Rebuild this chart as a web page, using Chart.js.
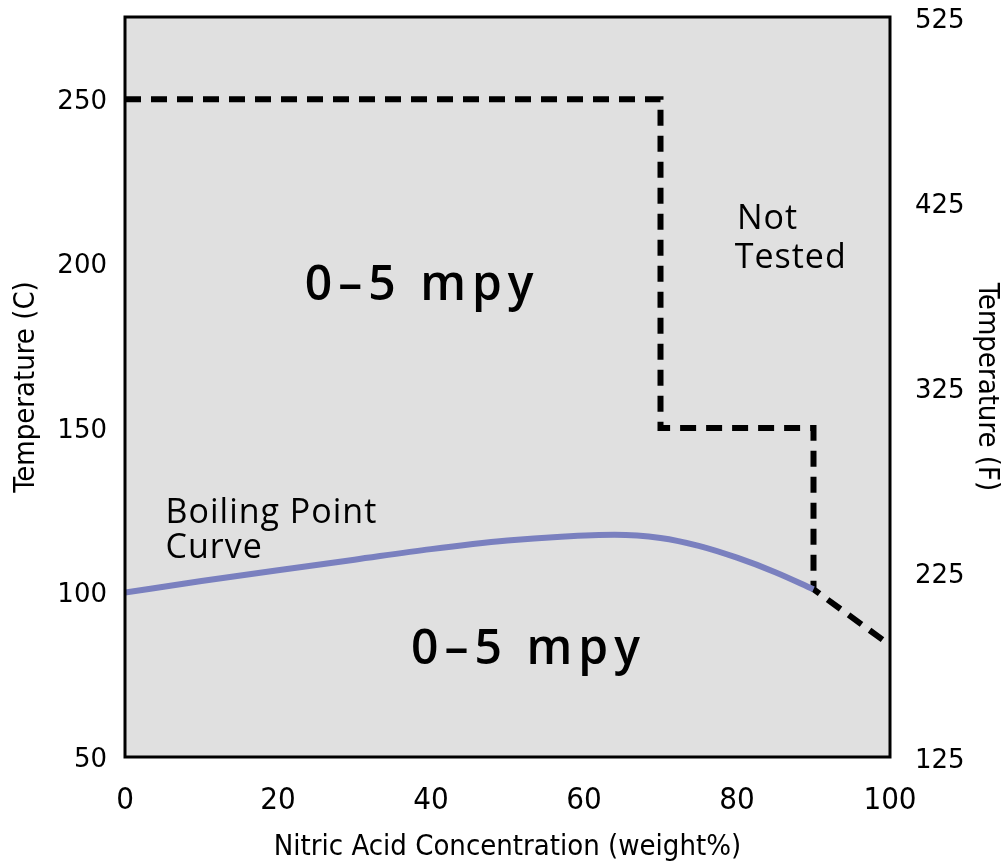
<!DOCTYPE html>
<html>
<head>
<meta charset="utf-8">
<script src="https://cdn.jsdelivr.net/npm/chart.js@4/dist/chart.umd.min.js"></script>
<style>
  body { margin: 0; background: #fff; }
  #wrap { width: 1006px; height: 865px; position: relative; }
</style>
</head>
<body>
<div id="wrap"><canvas id="chart"></canvas></div>
<script>
// Boiling point curve (C vs weight%)
const concBoil = [0, 10, 20, 30, 40, 50, 57, 64, 70, 75, 80, 85, 90];
const tempBoil = [100, 103.5, 106.8, 110, 113.2, 115.8, 117, 117.6, 116.6, 114.2, 110.6, 106.2, 101];

// Tested limit (dashed)
const concLimit = [0, 70, 70, 90, 90, 100];
const tempLimit = [250, 250, 150, 150, 101, 84];

// Axis ticks
const ticksX = [0, 20, 40, 60, 80, 100];
const ticksC = [50, 100, 150, 200, 250];
const ticksF = [125, 225, 325, 425, 525];

const condensed = "'DejaVu Sans Condensed', sans-serif";
const labelFont = "'Open Sans', 'DejaVu Sans', sans-serif";

function toPoints(xs, ys) {
    return xs.map((x, i) => ({ x: x, y: ys[i] }));
}

// Plot background, frame and text labels
const plotDecor = {
    id: 'plotDecor',
    beforeDatasetsDraw(chart) {
        const a = chart.chartArea;
        const ctx = chart.ctx;
        ctx.save();
        ctx.fillStyle = '#e0e0e0';
        ctx.fillRect(a.left, a.top, a.right - a.left, a.bottom - a.top);
        ctx.restore();
    },
    afterDatasetsDraw(chart) {
        const a = chart.chartArea;
        const ctx = chart.ctx;
        const xs = chart.scales.x;
        const ys = chart.scales.y;
        const at = (x, y) => [xs.getPixelForValue(x), ys.getPixelForValue(y)];
        ctx.save();
        ctx.strokeStyle = '#000';
        ctx.lineWidth = 3;
        ctx.strokeRect(a.left, a.top, a.right - a.left, a.bottom - a.top);

        ctx.fillStyle = '#000';
        ctx.textBaseline = 'alphabetic';
        ctx.textAlign = 'left';

        // region labels
        ctx.font = "600 48px " + labelFont;
        ctx.letterSpacing = '6px';
        ctx.fillText('0–5 mpy', ...at(23.5, 189.1));
        ctx.fillText('0–5 mpy', ...at(37.4, 78.3));

        ctx.font = "34px " + labelFont;
        ctx.letterSpacing = '1px';
        ctx.fillText('Not', ...at(80.0, 210.4));
        ctx.fillText('Tested', ...at(79.7, 198.6));
        ctx.fillText('Boiling Point', ...at(5.3, 121.2));
        ctx.fillText('Curve', ...at(5.3, 110.6));
        ctx.restore();
    }
};

function fixedTicks(values) {
    return function(scale) {
        scale.ticks = values.map(v => ({ value: v }));
    };
}

function fitTo(size) {
    return function(scale) {
        if (scale.isHorizontal()) scale.height = size;
        else scale.width = size;
        scale.paddingTop = 0;
        scale.paddingBottom = 0;
        scale.paddingLeft = 0;
        scale.paddingRight = 0;
    };
}

new Chart(document.getElementById('chart'), {
    type: 'line',
    data: {
        datasets: [
            {
                label: 'Boiling Point Curve',
                data: toPoints(concBoil, tempBoil),
                borderColor: '#7a80bf',
                borderWidth: 6,
                pointRadius: 0,
                cubicInterpolationMode: 'monotone',
                yAxisID: 'y'
            },
            {
                label: 'Tested limit',
                data: toPoints(concLimit, tempLimit),
                borderColor: '#000',
                borderWidth: 6,
                borderDash: [16, 10],
                borderCapStyle: 'butt',
                pointRadius: 0,
                tension: 0,
                yAxisID: 'y'
            }
        ]
    },
    options: {
        responsive: true,
        maintainAspectRatio: false,
        animation: false,
        layout: { padding: { top: 17, left: 0, right: 0, bottom: 0 } },
        plugins: {
            legend: { display: false },
            tooltip: { enabled: false }
        },
        scales: {
            x: {
                type: 'linear',
                min: 0,
                max: 100,
                afterBuildTicks: fixedTicks(ticksX),
                afterFit: fitTo(108),
                grid: { display: false, drawTicks: false },
                border: { display: false },
                ticks: {
                    color: '#000',
                    padding: 25,
                    font: { family: condensed, size: 31 }
                },
                title: {
                    display: true,
                    text: 'Nitric Acid Concentration (weight%)',
                    color: '#000',
                    padding: { top: 0, bottom: 0 },
                    font: { family: condensed, size: 29 }
                }
            },
            y: {
                position: 'left',
                min: 50,
                max: 275,
                afterBuildTicks: fixedTicks(ticksC),
                afterFit: fitTo(125),
                grid: { display: false, drawTicks: false },
                border: { display: false },
                ticks: {
                    color: '#000',
                    padding: 18,
                    labelOffset: 3,
                    font: { family: "'DejaVu Sans', sans-serif", size: 26 }
                },
                title: {
                    display: true,
                    text: 'Temperature (C)',
                    color: '#000',
                    padding: { top: 9, bottom: 0 },
                    font: { family: condensed, size: 29 }
                }
            },
            y2: {
                position: 'right',
                min: 125,
                max: 525,
                afterBuildTicks: fixedTicks(ticksF),
                afterFit: fitTo(116),
                grid: { display: false, drawTicks: false },
                border: { display: false },
                ticks: {
                    color: '#000',
                    padding: 25,
                    labelOffset: 4,
                    font: { family: "'DejaVu Sans', sans-serif", size: 26 }
                },
                title: {
                    display: true,
                    text: 'Temperature (F)',
                    color: '#000',
                    padding: { top: 2, bottom: 0 },
                    font: { family: condensed, size: 29 }
                }
            }
        }
    },
    plugins: [plotDecor]
});
</script>
</body>
</html>
